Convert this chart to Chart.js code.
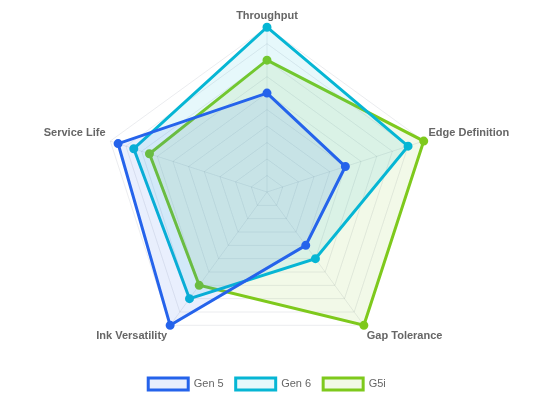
<!DOCTYPE html>
<html>
<head>
<meta charset="utf-8">
<script src="https://cdn.jsdelivr.net/npm/chart.js@4/dist/chart.umd.min.js"></script>
<style>
  html, body { margin: 0; padding: 0; background: #fff; }
  #wrap { width: 534px; height: 400px; }
</style>
</head>
<body>
<div id="wrap"><canvas id="c"></canvas></div>
<script>
const categories = ['Throughput', 'Edge Definition', 'Gap Tolerance', 'Ink Versatility', 'Service Life'];
const gen5 = [60, 50, 40, 100, 95];
const gen6 = [100, 90, 50, 80, 85];
const g5i = [80, 100, 100, 70, 75];

Chart.defaults.font.family = '"Liberation Sans", Arial, Helvetica, sans-serif';
Chart.defaults.color = '#666';

new Chart(document.getElementById('c'), {
    type: 'radar',
    data: {
        labels: categories,
        datasets: [
            {
                label: 'Gen 5', data: gen5,
                borderColor: '#2563eb', backgroundColor: 'rgba(37,99,235,0.1)',
                pointBackgroundColor: '#2563eb', pointBorderColor: '#2563eb',
                borderWidth: 3, pointRadius: 3
            },
            {
                label: 'Gen 6', data: gen6,
                borderColor: '#06b6d4', backgroundColor: 'rgba(6,182,212,0.1)',
                pointBackgroundColor: '#06b6d4', pointBorderColor: '#06b6d4',
                borderWidth: 3, pointRadius: 3
            },
            {
                label: 'G5i', data: g5i,
                borderColor: '#7ec91c', backgroundColor: 'rgba(126,201,28,0.1)',
                pointBackgroundColor: '#7ec91c', pointBorderColor: '#7ec91c',
                borderWidth: 3, pointRadius: 3
            }
        ]
    },
    options: {
        responsive: true,
        maintainAspectRatio: false,
        animation: false,
        layout: { padding: 0 },
        plugins: {
            legend: {
                position: 'bottom',
                labels: { boxWidth: 40, boxHeight: 12, padding: 12, font: { size: 11 } }
            },
            tooltip: { enabled: false }
        },
        scales: {
            r: {
                min: 0, max: 100,
                ticks: { stepSize: 10, display: false },
                grid: { color: 'rgba(30,41,80,0.09)' },
                angleLines: { color: 'rgba(30,41,80,0.09)' },
                pointLabels: { font: { size: 11, weight: 'bold' }, color: '#666' }
            }
        }
    }
});
</script>
</body>
</html>
